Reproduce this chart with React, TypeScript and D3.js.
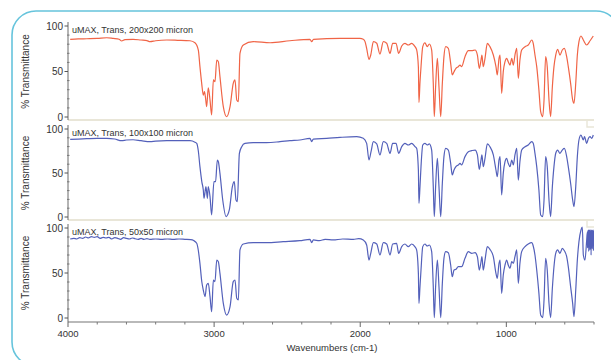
import React from "react";
import * as d3 from "d3";

const xMajorTicks = [4000, 3000, 2000, 1000];
const xMinorTicks = [3800, 3600, 3400, 3200, 2800, 2600, 2400, 2200, 1800, 1600, 1400, 1200, 800, 600, 400];
const yMajorTicks = [0, 50, 100];
const yMinorTicks = [10, 20, 30, 40, 60, 70, 80, 90];
const panelTitles = ["uMAX, Trans, 200x200 micron", "uMAX, Trans, 100x100 micron", "uMAX, Trans, 50x50 micron"];
const yAxisTitle = "% Transmittance";
const xAxisTitle = "Wavenumbers (cm-1)";

const wn200 = [3985,3930,3872,3800,3735,3690,3650,3633,3610,3555,3500,3460,3439,3400,3324,3250,3165,3131,3108,3097,3085,3074,3066,3058,3051,3040,3028,3017,3005,2994,2982,2971,2960,2937,2914,2891,2869,2857,2845,2834,2823,2800,2732,2617,2481,2344,2332,2320,2138,2002,1979,1967,1956,1940,1928,1910,1887,1865,1842,1819,1796,1778,1755,1737,1716,1694,1671,1648,1625,1614,1602,1598,1591,1584,1572,1557,1541,1527,1511,1500,1493,1484,1472,1461,1449,1438,1427,1415,1397,1381,1370,1358,1345,1329,1317,1306,1283,1260,1237,1214,1198,1185,1175,1167,1158,1146,1130,1112,1089,1071,1062,1050,1043,1032,1021,1009,998,987,975,963,952,941,929,918,907,895,872,850,826,816,804,792,777,765,751,742,731,720,708,697,685,674,662,649,633,617,603,587,576,560,546,537,525,514,503,489,473,450,427,405];
const t200 = [85.4,85.8,86.0,86.3,87.1,86.3,85.4,83.5,85.0,85.4,84.6,84.0,82.8,83.8,84.6,84.3,83.8,81.6,73.6,55.3,37,24,28,20,11.3,32,18.7,2.2,40.7,38.8,62.6,60.8,44.3,11.3,0.3,11.3,37,40.7,18.7,16.8,70,79.1,82.8,81.6,83.8,85.4,82.8,85.4,86.4,86.4,85.5,82.8,75.5,63.4,68.1,82.8,81,69.2,82.8,81,70,81,81,70,78,81,79.1,81,77.3,74,55,16,38,55,77.3,81.6,77.3,80.2,73.6,37,0.5,33.3,64.5,33.3,0.5,37,66.3,77.3,75.5,59,46.2,49.8,53.5,55.3,57.1,55.3,66.3,72.9,72.9,73.6,68.1,53.5,60.8,68.1,55.3,64.5,81,77.3,68.1,55.3,46.2,64.5,68.1,26,49.8,60.8,64.5,60.8,57.1,64.5,57.1,68.1,75.5,42.5,62.6,73.6,77.3,79.1,84.6,81,68.1,55.3,29.7,6,0.5,18.7,66.3,55.3,18.7,0.5,33.3,55.3,68.1,74.4,68.1,73.6,75.5,66.3,55.3,37,18.7,15,37,68.1,82.8,89,84.6,79.1,83.8,89];

const wn100 = [3985,3930,3872,3800,3735,3680,3633,3600,3555,3500,3439,3400,3324,3250,3165,3131,3119,3108,3097,3084,3074,3069,3056,3046,3040,3028,3017,3001,2990,2978,2971,2960,2941,2918,2896,2875,2862,2850,2841,2827,2811,2789,2732,2641,2549,2481,2413,2344,2332,2321,2230,2138,2024,1979,1956,1940,1926,1910,1887,1865,1842,1819,1796,1778,1755,1737,1716,1694,1671,1648,1625,1614,1602,1598,1591,1584,1572,1557,1541,1527,1511,1500,1493,1484,1472,1461,1449,1438,1427,1415,1397,1381,1370,1358,1345,1329,1317,1306,1283,1260,1237,1214,1198,1185,1175,1167,1158,1146,1130,1112,1089,1071,1062,1050,1043,1032,1021,1009,998,987,975,963,952,941,929,918,907,895,872,850,826,816,804,792,777,765,751,742,731,720,708,697,685,674,662,649,633,617,603,587,576,560,546,537,525,514,503,489,473,465,450,438,427,416,405];
const t100 = [88.3,88.6,89,89.4,89.4,88.6,86.7,87.5,87.8,86.7,85.6,86.2,86.7,86.7,86.7,85,83.7,75,57.2,40,30.7,21.2,34.5,21.2,34.5,23.1,2.3,40.1,40.1,64.8,62.9,49.6,19.3,0.5,8,34.5,40.1,19.3,17.4,72.4,79.9,83.7,84.5,84.5,85.6,86.7,87.5,89.4,85.6,88.6,89.4,90.5,91.3,89.4,83.7,64.8,74.2,85.6,83,70.5,85.6,83.7,72.4,83.7,83.7,72.4,79.9,83.7,81.8,83.7,80,78,53.4,15.5,34.5,57.2,81.8,83.7,81.8,83,76.1,34.5,0.5,34.5,66.7,34.5,0.5,38.3,68.6,78,76.1,61,47.7,53.4,57.2,59.1,61,59.1,68.6,74.2,75.4,76.1,70.5,54.2,62.9,70.5,57.2,66.7,83,79.9,70.5,53.4,45.8,64.8,68.6,25,49.6,62.9,66.7,61,57.2,64.8,59.1,70.5,78,42,62.9,76.1,79.9,81.8,85.6,83.7,72.4,57.2,30.7,2.3,0.5,19.3,68.6,57.2,19.3,0.5,34.5,57.2,72.4,76.1,72.4,76.1,78,68.6,57.2,38.3,19.3,11.7,34.5,68.6,87.5,93.2,87.5,91.3,83.7,89.4,91.3,89.4,93.2];

const wn50 = [3985,3960,3940,3920,3900,3880,3860,3840,3820,3800,3780,3760,3740,3720,3700,3680,3660,3640,3620,3600,3580,3560,3540,3520,3500,3480,3460,3440,3400,3360,3320,3280,3240,3200,3160,3140,3119,3108,3097,3084,3074,3062,3051,3040,3028,3017,3005,2994,2982,2971,2960,2937,2914,2891,2869,2857,2845,2834,2823,2800,2732,2641,2527,2413,2344,2332,2321,2280,2240,2185,2120,2047,2010,1979,1956,1940,1928,1910,1887,1865,1842,1819,1796,1778,1751,1737,1716,1694,1671,1648,1625,1614,1602,1598,1591,1584,1572,1557,1541,1527,1511,1500,1493,1484,1472,1461,1449,1438,1427,1415,1397,1381,1370,1358,1345,1329,1317,1306,1283,1260,1237,1214,1198,1185,1175,1167,1158,1146,1130,1112,1089,1071,1062,1050,1043,1032,1021,1009,998,987,975,963,952,941,929,918,907,895,872,850,826,816,804,792,777,765,751,742,731,720,708,697,685,674,662,649,633,617,603,587,576,560,546,537,525,514,503,489,480,473,462,450,446,444,442,440,438,436,434,432,430,428,426,424,422,420,418,416,414,412,410,408,406,404,402];
const t50 = [87.8,88.5,87.8,89.2,88.5,90,89,90.4,89.6,90.4,88.5,89.6,88.9,89.6,87.8,89.2,88.5,87.4,89.2,88.5,87.8,88.9,88.1,87.4,88.5,87.4,88.1,87.4,87.8,87.4,87.8,87.4,87.8,87.4,87,86,83,75,60.7,40,31.1,23.7,36.7,38.5,23.7,7,42.2,40.4,64.4,62.6,49.6,16.3,3.3,12.6,40.4,42.2,21.9,20,75.6,82.2,83.7,83.7,84.8,85.9,87.4,83.7,86.7,86,87.4,86.7,87.8,87.4,88.2,86.7,81.1,64.4,71.9,83.7,82.2,70,83.7,82.2,70,82.2,83,71.9,79.3,82.2,79.3,82.2,79,75.6,49.6,16.3,34.8,53.3,79.3,82.2,80,81.1,73.7,34.8,0.5,34.8,64.4,34.8,0.5,38.5,66.3,73.7,72.6,58.9,45.9,53.3,54.1,57,57,57,66.3,73.7,71.9,72.6,68.1,53.3,60.7,68.1,53.3,64.4,79.3,76.3,68.1,49.6,44.1,60.7,64.4,27.4,47.8,58.9,64.4,58.9,55.2,62.6,60.7,68.1,75.6,38.5,60.7,73.7,79.3,82.2,83.7,80,70,53.3,27.4,3.3,0.5,20,66.3,53.3,16.3,0.5,33,57,71.9,75.6,71.9,77.4,74.8,68.1,57,34.8,16.3,1.5,31.1,64.4,84.8,97.8,101,70,64.4,86.7,95,78,97,82,98,74,97,84,98,76,96,83,98,70,97,84,98,77,96,82,98,75,97];

const W = 611;
const H = 360;

const panels = [
  { wn: wn200, t: t200, title: panelTitles[0], top: 26, bottom: 117, sep: 120, color: "#f06446" },
  { wn: wn100, t: t100, title: panelTitles[1], top: 129, bottom: 217, sep: 220, color: "#5360ba" },
  { wn: wn50, t: t50, title: panelTitles[2], top: 228, bottom: 318, sep: 322, color: "#5360ba" },
];

const X0 = 68;
const X1 = 594;
const font = "'Liberation Sans', Arial, sans-serif";

export default function App() {
  const x = d3.scaleLinear().domain([4000, 400]).range([X0, X1]);
  return (
    <svg width={W} height={H} style={{ position: "fixed", left: 0, top: 0, background: "#fff" }} fontFamily={font}>
      <rect x={0} y={0} width={W} height={H} fill="#fff" />
      <rect x={12} y={11} width={608} height={355} rx={24} ry={24} fill="none" stroke="#66c4dc" strokeWidth={1.6} />
      <defs>
        {panels.map((p, i) => (
          <clipPath id={`clip${i}`} key={i}>
            <rect x={X0} y={p.top - 5} width={X1 - X0} height={p.sep - p.top + 4} />
          </clipPath>
        ))}
      </defs>
      {panels.map((p, i) => {
        const y = d3.scaleLinear().domain([0, 100]).range([p.bottom, p.top]);
        const pts: [number, number][] = p.wn.map((w, k) => [w, p.t[k]]);
        const line = d3
          .line<[number, number]>()
          .x((d) => x(d[0]))
          .y((d) => y(d[1]))
          .curve(d3.curveMonotoneX);
        const mid = (p.top + p.bottom) / 2;
        return (
          <g key={i}>
            {i < 2 ? (
              <g>
                <line x1={X0} x2={X1} y1={p.sep} y2={p.sep} stroke="#e9e6d8" strokeWidth={2.2} />
                <path d={`M${X1 - 7},${p.sep} V${p.sep + 7} H${X1}`} fill="none" stroke="#e9e6d8" strokeWidth={1.4} />
              </g>
            ) : (
              <line x1={X0} x2={X1} y1={p.sep} y2={p.sep} stroke="#b9b9b9" strokeWidth={1.8} />
            )}
            <line x1={X0} x2={X0} y1={p.top - 4} y2={p.sep} stroke="#6a6a6a" strokeWidth={1} />
            {yMajorTicks.map((v) => (
              <g key={v}>
                <line x1={X0 - 3.5} x2={X0} y1={y(v)} y2={y(v)} stroke="#555" strokeWidth={1} />
                <text x={X0 - 5} y={y(v)} dy="0.35em" textAnchor="end" fontSize={10} fill="#333">{v}</text>
              </g>
            ))}
            {yMinorTicks.map((v) => (
              <line key={v} x1={X0 - 1} x2={X0 + 1.5} y1={y(v)} y2={y(v)} stroke="#777" strokeWidth={1} />
            ))}
            <text x={72} y={p.top + 6.5} fontSize={9} fill="#333">{p.title}</text>
            <text transform={`translate(29,${mid}) rotate(-90)`} textAnchor="middle" fontSize={10} fill="#333">{yAxisTitle}</text>
            <path d={line(pts) || ""} fill="none" stroke={p.color} strokeWidth={1.2} strokeLinejoin="round" clipPath={`url(#clip${i})`} />
          </g>
        );
      })}
      {xMajorTicks.map((v) => (
        <g key={v}>
          <line x1={x(v)} x2={x(v)} y1={322} y2={327} stroke="#666" strokeWidth={1} />
          <text x={x(v)} y={337} textAnchor="middle" fontSize={9.5} fill="#333">{v}</text>
        </g>
      ))}
      {xMinorTicks.map((v) => (
        <line key={v} x1={x(v)} x2={x(v)} y1={322} y2={324.5} stroke="#777" strokeWidth={1} />
      ))}
      <text x={332} y={351} textAnchor="middle" fontSize={9.5} fill="#333">{xAxisTitle}</text>
    </svg>
  );
}
